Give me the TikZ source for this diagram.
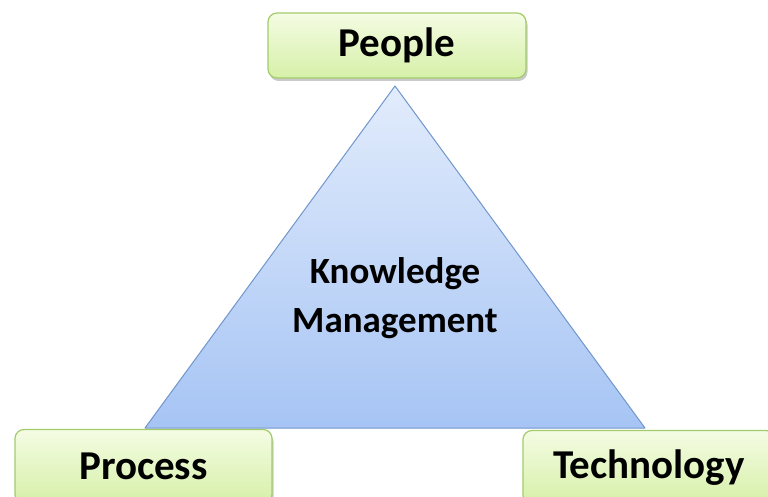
\documentclass[tikz,border=0pt]{standalone}
\usepackage{fontspec}
\setmainfont{Carlito}
\usetikzlibrary{shadows}
\definecolor{boxtop}{HTML}{F4FCE3}
\definecolor{boxbot}{HTML}{D6F0A8}
\definecolor{boxline}{HTML}{A2CC6A}
\definecolor{tritop}{HTML}{E2ECFC}
\definecolor{tribot}{HTML}{A6C4F4}
\definecolor{triline}{HTML}{7096CC}
\tikzset{
  greenbox/.style={draw=boxline, line width=1.2pt, rounded corners=9pt,
    top color=boxtop, bottom color=boxbot,
    drop shadow={shadow xshift=1.5pt, shadow yshift=-3pt, opacity=0.35, fill=black!60},
    font=\fontsize{41}{45}\selectfont\bfseries, text=black, inner sep=0pt},
  kmtext/.style={align=center, font=\fontsize{37}{49}\selectfont\bfseries, text=black}
}
\begin{document}
\begin{tikzpicture}[x=1pt,y=-1pt]
\useasboundingbox (0,0) rectangle (768,497);
\clip (0,0) rectangle (768,497);
% triangle
\coordinate (apex) at (395,86);
\coordinate (bl) at (145,428);
\coordinate (br) at (645,428);
\shade[top color=tritop, bottom color=tribot, draw=triline, line width=1pt, line join=round]
  (apex) -- (bl) -- (br) -- cycle;
\node[kmtext] (km) at (395,298) {Knowledge\\Management};
% boxes
\node[greenbox, minimum width=258pt, minimum height=65pt] (people) at (397,45.5) {People};
\node[greenbox, minimum width=257pt, minimum height=74pt] (process) at (143.5,466.5) {Process};
\node[greenbox, minimum width=252pt, minimum height=74pt] (tech) at (649,467.5) {Technology};
\end{tikzpicture}
\end{document}
